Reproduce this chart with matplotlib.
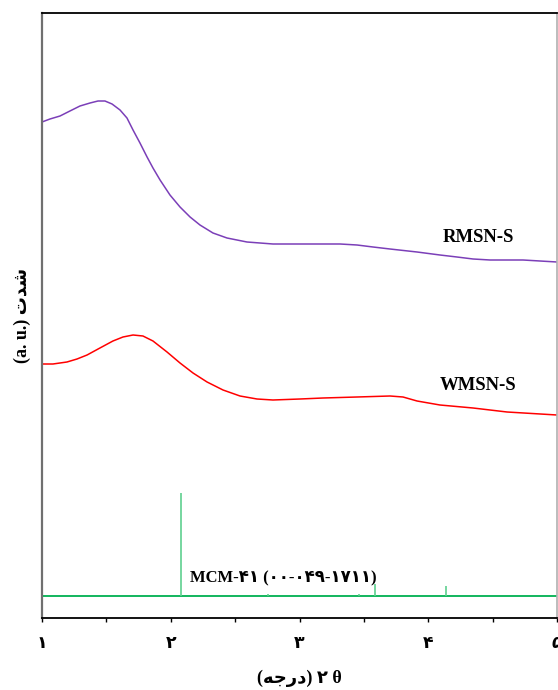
import matplotlib
matplotlib.use("Agg")
import matplotlib.pyplot as plt
from matplotlib.ticker import MultipleLocator

# Patterns (2 theta in degrees, intensity in arbitrary units)
rmsn_theta = [1.000, 1.062, 1.140, 1.217, 1.295, 1.373, 1.435, 1.489, 1.544, 1.606,
              1.660, 1.707, 1.761, 1.816, 1.862, 1.917, 1.994, 2.072, 2.150, 2.227,
              2.328, 2.437, 2.592, 2.794, 3.004, 3.315, 3.447, 3.571, 3.703, 3.913,
              4.091, 4.223, 4.348, 4.480, 4.736, 5.000]
rmsn_int = [496, 499, 502, 507, 512, 515, 517, 517, 514, 508,
            500, 488, 475, 461, 450, 438, 423, 411, 401, 393,
            385, 380, 376, 374, 374, 374, 373, 371, 369, 366,
            363, 361, 359, 358, 358, 356]

wmsn_theta = [1.000, 1.085, 1.194, 1.272, 1.350, 1.450, 1.551, 1.629, 1.707, 1.784,
              1.862, 1.971, 2.072, 2.173, 2.282, 2.406, 2.538, 2.670, 2.794, 3.004,
              3.183, 3.447, 3.703, 3.804, 3.913, 4.091, 4.348, 4.612, 5.000]
wmsn_int = [254, 254, 256, 259, 263, 270, 277, 281, 283, 282,
            277, 266, 255, 245, 236, 228, 222, 219, 218, 219,
            220, 221, 222, 221, 217, 213, 210, 206, 203]

# Reference card MCM-41 (00-049-1711)
ref_base = 22
ref_theta = [2.08, 2.755, 3.462, 3.587, 4.138]
ref_int = [125, 24, 24, 34, 32]

tick_vals = [1, 2, 3, 4, 5]
tick_labels = ["۱", "۲", "۳", "۴", "۵"]

fam = ["Liberation Serif", "DejaVu Sans"]

fig = plt.figure(figsize=(5.58, 6.90), dpi=100)
ax = fig.add_axes([42 / 558, 72 / 690, 515 / 558, 605 / 690])

ax.plot(rmsn_theta, rmsn_int, color="#7B3FB8", lw=1.1, solid_joinstyle="round")
ax.plot(wmsn_theta, wmsn_int, color="#FF0000", lw=1.1, solid_joinstyle="round")
ax.axhline(ref_base, color="#00B050", lw=1.3)
ax.vlines(ref_theta, ref_base, ref_int, color="#5FCF8F", lw=1.2)

ax.text(4.39, 381, "RMSN-S", fontsize=13.5, fontweight="bold", family=fam,
        ha="center", va="center")
ax.text(4.39, 232, "WMSN-S", fontsize=13.5, fontweight="bold", family=fam,
        ha="center", va="center")
ax.text(2.15, 40, "MCM-۴۱ (۰۰-۰۴۹-۱۷۱۱)", fontsize=12, fontweight="bold",
        family=fam, ha="left", va="center")

ax.set_xlim(1, 5)
ax.set_ylim(0, 605)
ax.set_yticks([])
ax.set_xticks(tick_vals)
ax.set_xticklabels(tick_labels, fontsize=12.5, fontweight="bold", family=fam)
ax.xaxis.set_minor_locator(MultipleLocator(0.5))
ax.tick_params(axis="x", which="both", direction="out", length=3, width=1, pad=10)

for side in ["top", "bottom"]:
    ax.spines[side].set_color("black")
    ax.spines[side].set_linewidth(1.3)
ax.spines["left"].set_color("#707070")
ax.spines["left"].set_linewidth(1.6)
ax.spines["right"].set_color("#b0b0b0")
ax.spines["right"].set_linewidth(1.2)

# Arabic presentation forms in visual order
ax.set_xlabel("(\uFEEA\uFE9F\uFEAD\uFEA9) ۲ θ", fontsize=13, fontweight="bold",
              family=fam, labelpad=13)
ax.set_ylabel("(a. u.) \uFE95\uFEAA\uFEB7", fontsize=13, fontweight="bold",
              family=fam, labelpad=8)

fig.savefig("out.png", dpi=100)
